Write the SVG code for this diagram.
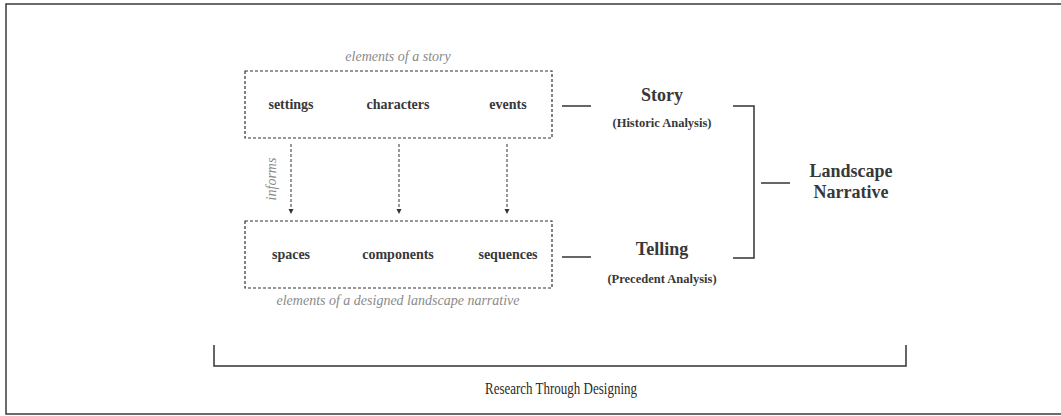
<svg xmlns="http://www.w3.org/2000/svg" width="1061" height="416" viewBox="0 0 1061 416" font-family="'Liberation Serif', 'Times New Roman', serif">
<style>
.frame{fill:none;stroke:#3a3a3a;stroke-width:1.5}
.dbox{fill:none;stroke:#333;stroke-width:1.2;stroke-dasharray:3 2}
.darr{fill:none;stroke:#333;stroke-width:1;stroke-dasharray:3 2}
.ln{fill:none;stroke:#333;stroke-width:1.5}
.lbl{font-weight:bold;fill:#383838;text-anchor:middle}
.it{font-style:italic;fill:#8a8a8a;text-anchor:middle;font-size:14px}
.big{fill:#2a2a2a;text-anchor:middle}
</style>
<defs>
<marker id="ah" markerWidth="6" markerHeight="6" refX="5" refY="3" orient="auto" markerUnits="userSpaceOnUse">
<path d="M0,0.5 L5,3 L0,5.5 Z" fill="#333"/>
</marker>
</defs>
<rect width="1061" height="416" fill="#fff"/>
<rect class="frame" x="6" y="4" width="1062" height="410"/>

<g id="story-elements">
<text class="it" x="398" y="61" font-family="Liberation Serif, serif">elements of a story</text>
<rect class="dbox" x="245" y="71" width="307" height="67"/>
<text class="lbl" x="291" y="109" font-size="14" font-family="Liberation Serif, serif">settings</text>
<text class="lbl" x="398" y="109" font-size="14" font-family="Liberation Serif, serif">characters</text>
<text class="lbl" x="508" y="109" font-size="14" font-family="Liberation Serif, serif">events</text>
</g>

<g id="narrative-elements">
<rect class="dbox" x="245" y="221" width="307" height="67"/>
<text class="lbl" x="291" y="259" font-size="14" font-family="Liberation Serif, serif">spaces</text>
<text class="lbl" x="398" y="259" font-size="14" font-family="Liberation Serif, serif">components</text>
<text class="lbl" x="508" y="259" font-size="14" font-family="Liberation Serif, serif">sequences</text>
<text class="it" x="398" y="305" font-family="Liberation Serif, serif">elements of a designed landscape narrative</text>
</g>

<g id="story">
<text class="lbl" x="662" y="101" font-size="18" font-family="Liberation Serif, serif">Story</text>
<text class="lbl" x="662" y="127" font-size="12.5" font-family="Liberation Serif, serif">(Historic Analysis)</text>
</g>

<g id="telling">
<text class="lbl" x="662" y="255" font-size="18" font-family="Liberation Serif, serif">Telling</text>
<text class="lbl" x="662" y="283" font-size="12.5" font-family="Liberation Serif, serif">(Precedent Analysis)</text>
</g>

<g id="landscape-narrative">
<text class="lbl" x="851" y="177" font-size="18" font-family="Liberation Serif, serif">Landscape</text>
<text class="lbl" x="851" y="198" font-size="18" font-family="Liberation Serif, serif">Narrative</text>
</g>

<g id="research">
<text class="big" x="561" y="394" font-size="17" textLength="152" lengthAdjust="spacingAndGlyphs" font-family="Liberation Serif, serif">Research Through Designing</text>
</g>

<g id="connectors">
<line class="darr" x1="291" y1="144" x2="291" y2="214" marker-end="url(#ah)"/>
<line class="darr" x1="399" y1="144" x2="399" y2="214" marker-end="url(#ah)"/>
<line class="darr" x1="507" y1="144" x2="507" y2="214" marker-end="url(#ah)"/>
<text class="it" transform="translate(276,179) rotate(-90)" x="0" y="0" font-family="Liberation Serif, serif">informs</text>
<line class="ln" x1="562" y1="106" x2="591" y2="106"/>
<line class="ln" x1="562" y1="257" x2="591" y2="257"/>
<polyline class="ln" points="733,106 754,106 754,258 733,258"/>
<line class="ln" x1="761" y1="183" x2="790" y2="183"/>
<polyline class="ln" points="214,345 214,366 906,366 906,345"/>
</g>
</svg>
